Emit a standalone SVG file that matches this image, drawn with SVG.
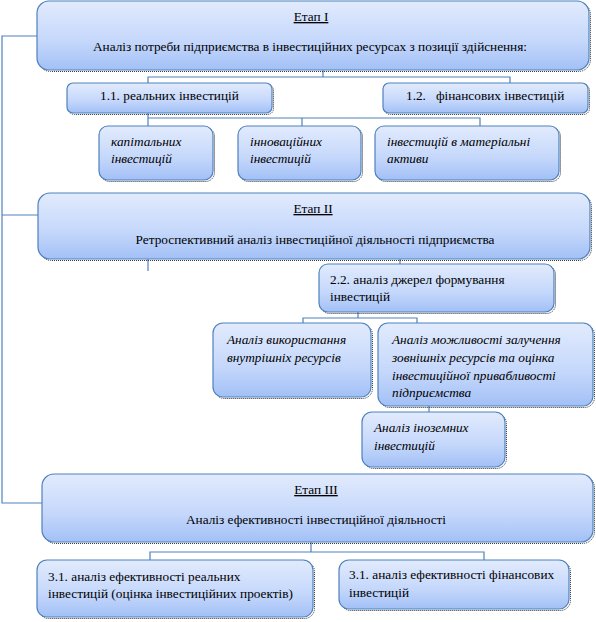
<svg xmlns="http://www.w3.org/2000/svg" width="596" height="622" viewBox="0 0 596 622" font-family="'Liberation Serif', 'Times New Roman', 'DejaVu Serif', serif">
<defs>
<linearGradient id="g" x1="0" y1="0" x2="0" y2="1">
<stop offset="0" stop-color="#e2ebfd"/>
<stop offset="0.6" stop-color="#c4d7fb"/>
<stop offset="1" stop-color="#a2c0f6"/>
</linearGradient>
<style>
.b{fill:url(#g);stroke:#4f81bd;stroke-width:1.2}
.s{fill:none;stroke:#333;stroke-width:1;stroke-dasharray:1 1}
.c{fill:none;stroke:#4f81bd;stroke-width:1.2}
text{font-family:'Liberation Serif','Times New Roman','DejaVu Serif',serif;font-size:13.3px;fill:#000}
.i{font-style:italic}
.u{text-decoration:underline}
</style>
</defs>
<rect width="596" height="622" fill="#fff"/>
<g id="connectors">
<polyline class="c" points="37,36 2,36 2,503 42,503"/>
<line class="c" x1="2" y1="215" x2="38" y2="215"/>
<polyline class="c" points="323,70 323,77"/>
<polyline class="c" points="148,83 148,77 510,77 510,83"/>
<polyline class="c" points="148,113 148,126"/>
<polyline class="c" points="148,118 480,118 480,126"/>
<line class="c" x1="302" y1="118" x2="302" y2="126"/>
<line class="c" x1="148" y1="259" x2="148" y2="271"/>
<line class="c" x1="400" y1="259" x2="400" y2="264"/>
<line class="c" x1="358" y1="312" x2="358" y2="318"/>
<polyline class="c" points="303,323 303,318 417,318 417,323"/>
<line class="c" x1="429" y1="406" x2="429" y2="412"/>
<line class="c" x1="311" y1="542" x2="311" y2="552"/>
<polyline class="c" points="150,560 150,552 484,552 484,560"/>
</g>
<g id="etap1">
<rect class="s" x="38.5" y="2.5" width="552" height="69" rx="12"/>
<rect class="b" x="37" y="1" width="552" height="69" rx="12"/>
<text class="u" x="311" y="21" text-anchor="middle">Етап І</text>
<text x="310" y="51" text-anchor="middle" textLength="434" lengthAdjust="spacing">Аналіз потреби підприємства в інвестиційних ресурсах з позиції здійснення:</text>
</g>
<g id="n11">
<rect class="s" x="68.5" y="84.5" width="205" height="30" rx="6"/>
<rect class="b" x="67" y="83" width="205" height="30" rx="6"/>
<text x="100" y="100">1.1. реальних інвестицій</text>
</g>
<g id="n12">
<rect class="s" x="384.5" y="84.5" width="205" height="30" rx="6"/>
<rect class="b" x="383" y="83" width="205" height="30" rx="6"/>
<text x="406" y="100" xml:space="preserve">1.2.   фінансових інвестицій</text>
</g>
<g id="n_cap">
<rect class="s" x="100.5" y="127.5" width="114" height="54" rx="9"/>
<rect class="b" x="99" y="126" width="114" height="54" rx="9"/>
<text class="i" x="111" y="146">капітальних</text>
<text class="i" x="111" y="163">інвестицій</text>
</g>
<g id="n_inn">
<rect class="s" x="239.5" y="127.5" width="123" height="54" rx="9"/>
<rect class="b" x="238" y="126" width="123" height="54" rx="9"/>
<text class="i" x="250" y="146">інноваційних</text>
<text class="i" x="250" y="163">інвестицій</text>
</g>
<g id="n_mat">
<rect class="s" x="376.5" y="127.5" width="184" height="54" rx="9"/>
<rect class="b" x="375" y="126" width="184" height="54" rx="9"/>
<text class="i" x="387" y="146">інвестицій в матеріальні</text>
<text class="i" x="387" y="163">активи</text>
</g>
<g id="etap2">
<rect class="s" x="39.5" y="194.5" width="552" height="66" rx="12"/>
<rect class="b" x="38" y="193" width="552" height="66" rx="12"/>
<text class="u" x="313" y="213" text-anchor="middle">Етап ІІ</text>
<text x="315" y="244" text-anchor="middle">Ретроспективний аналіз інвестиційної діяльності підприємства</text>
</g>
<g id="n22">
<rect class="s" x="320.5" y="265.5" width="235" height="48" rx="9"/>
<rect class="b" x="319" y="264" width="235" height="48" rx="9"/>
<text x="330" y="284">2.2. аналіз джерел формування</text>
<text x="330" y="301">інвестицій</text>
</g>
<g id="n_int">
<rect class="s" x="214.5" y="324.5" width="158" height="74" rx="10"/>
<rect class="b" x="213" y="323" width="158" height="74" rx="10"/>
<text class="i" x="227" y="344">Аналіз використання</text>
<text class="i" x="227" y="362">внутрішніх ресурсів</text>
</g>
<g id="n_ext">
<rect class="s" x="379.5" y="324.5" width="215" height="83" rx="10"/>
<rect class="b" x="378" y="323" width="215" height="83" rx="10"/>
<text class="i" x="392" y="344">Аналіз можливості залучення</text>
<text class="i" x="392" y="362">зовнішніх ресурсів та оцінка</text>
<text class="i" x="392" y="380">інвестиційної привабливості</text>
<text class="i" x="392" y="397">підприємства</text>
</g>
<g id="n_for">
<rect class="s" x="363.5" y="413.5" width="143" height="55" rx="10"/>
<rect class="b" x="362" y="412" width="143" height="55" rx="10"/>
<text class="i" x="374" y="432">Аналіз іноземних</text>
<text class="i" x="374" y="450">інвестицій</text>
</g>
<g id="etap3">
<rect class="s" x="43.5" y="475.5" width="551" height="68" rx="12"/>
<rect class="b" x="42" y="474" width="551" height="68" rx="12"/>
<text class="u" x="316" y="494" text-anchor="middle">Етап ІІІ</text>
<text x="316" y="524" text-anchor="middle">Аналіз ефективності інвестиційної діяльності</text>
</g>
<g id="n31a">
<rect class="s" x="38.5" y="561.5" width="276" height="57" rx="10"/>
<rect class="b" x="37" y="560" width="276" height="57" rx="10"/>
<text x="48" y="581">3.1. аналіз ефективності реальних</text>
<text x="48" y="598">інвестицій (оцінка інвестиційних проектів)</text>
</g>
<g id="n31b">
<rect class="s" x="340.5" y="561.5" width="230" height="49" rx="10"/>
<rect class="b" x="339" y="560" width="230" height="49" rx="10"/>
<text x="349" y="579">3.1. аналіз ефективності фінансових</text>
<text x="349" y="597">інвестицій</text>
</g>
</svg>
